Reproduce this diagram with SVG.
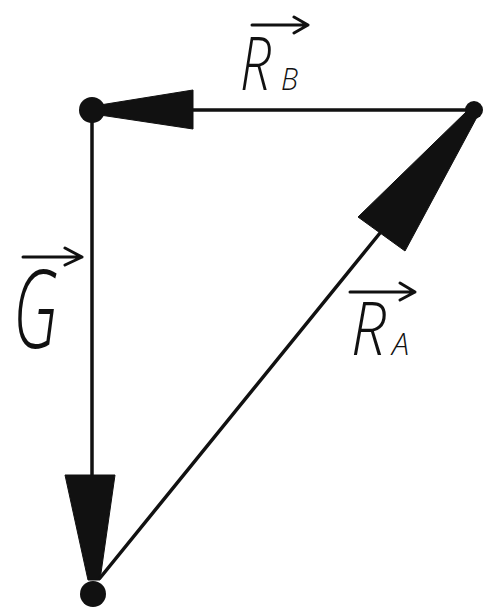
<svg xmlns="http://www.w3.org/2000/svg" width="484" height="610" viewBox="0 0 484 610">
<style>
.ln{stroke:#111;stroke-width:3.5;fill:none;stroke-linecap:round}
.head{fill:#111;stroke:#111;stroke-width:1;stroke-linejoin:round}
.dot{fill:#111}
.lab{font-family:"Open Sans","Liberation Sans",sans-serif;font-style:italic;font-weight:300;fill:#111}
.vec{stroke:#111;stroke-width:3;fill:none;stroke-linecap:round;stroke-linejoin:round}
</style>
<rect width="484" height="610" fill="#fff"/>
<g id="connectors">
  <line class="ln" x1="192" y1="110" x2="474" y2="110"/>
  <polygon class="head" points="100,105 100,115 193,129 193,90"/>
  <line class="ln" x1="92" y1="110" x2="92" y2="476"/>
  <polygon class="head" points="65,475 115,475 100,580 88,580"/>
  <line class="ln" x1="100" y1="578" x2="380" y2="233"/>
  <polygon class="head" points="358,217 405,251 477,117 467,111"/>
</g>
<g id="node-top-left"><circle class="dot" cx="92" cy="110" r="13"/></g>
<g id="node-top-right"><circle class="dot" cx="474" cy="110" r="9"/></g>
<g id="node-bottom"><circle class="dot" cx="93" cy="594" r="13"/></g>
<g id="label-RB">
  <path class="vec" d="M252,25 H308 M294,17 L308,25 L294,33"/>
  <text class="lab" x="240" y="90" font-size="74" textLength="31" lengthAdjust="spacingAndGlyphs">R</text>
  <text class="lab" x="281" y="90" font-size="32" textLength="17" lengthAdjust="spacingAndGlyphs">B</text>
</g>
<g id="label-G">
  <path class="vec" d="M23,257 H82 M65,248 L82,257 L65,265"/>
  <text class="lab" x="13" y="348" font-size="108" textLength="45" lengthAdjust="spacingAndGlyphs">G</text>
</g>
<g id="label-RA">
  <path class="vec" d="M350,292 H415 M400,283 L415,292 L400,300"/>
  <text class="lab" x="351" y="355" font-size="74" textLength="35" lengthAdjust="spacingAndGlyphs">R</text>
  <text class="lab" x="392" y="355" font-size="31" textLength="17" lengthAdjust="spacingAndGlyphs">A</text>
</g>
</svg>
